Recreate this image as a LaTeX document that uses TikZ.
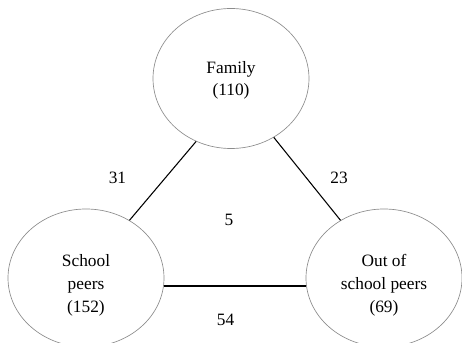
\documentclass[tikz,border=0pt]{standalone}
\usepackage{fontspec}
\setmainfont{Liberation Serif}
\usetikzlibrary{shapes.geometric}

\tikzstyle{group}=[ellipse, draw=black!45, line width=0.5pt, inner sep=0pt, minimum width=117pt, minimum height=103.5pt, align=center, font=\fontsize{13}{17.5}\selectfont]
\tikzstyle{link1} = [line width=0.8pt]
\tikzstyle{link2} = [line width=1.5pt]
\tikzstyle{count}=[font=\fontsize{13}{16}\selectfont]

\begin{document}
\begin{tikzpicture}[x=0.75pt, y=0.75pt]
\useasboundingbox (0,0) rectangle (462,343);
\node (family) [group, minimum height=105pt, font=\fontsize{13}{16}\selectfont] at (231,264.5) {\rule{0pt}{12pt}Family\\(110)};
\node (school) [group] at (86,65) {\rule{0pt}{20pt}School\\peers\\(152)};
\node (outschool) [group] at (384,65) {\rule{0pt}{20pt}Out of\\school peers\\(69)};
\node (shared) [count] at (229,123) {5};
\draw[link1](family.241)--(school.53) node[count, midway, xshift=-34pt, yshift=2pt]{31};
\draw[link1](family.306)--(outschool.127) node[count, midway, xshift=24pt, yshift=1pt]{23};
\draw[link2](school.-6)--(outschool.186) node[count, midway, xshift=-7pt, yshift=-25pt]{54};
\end{tikzpicture}
\end{document}
